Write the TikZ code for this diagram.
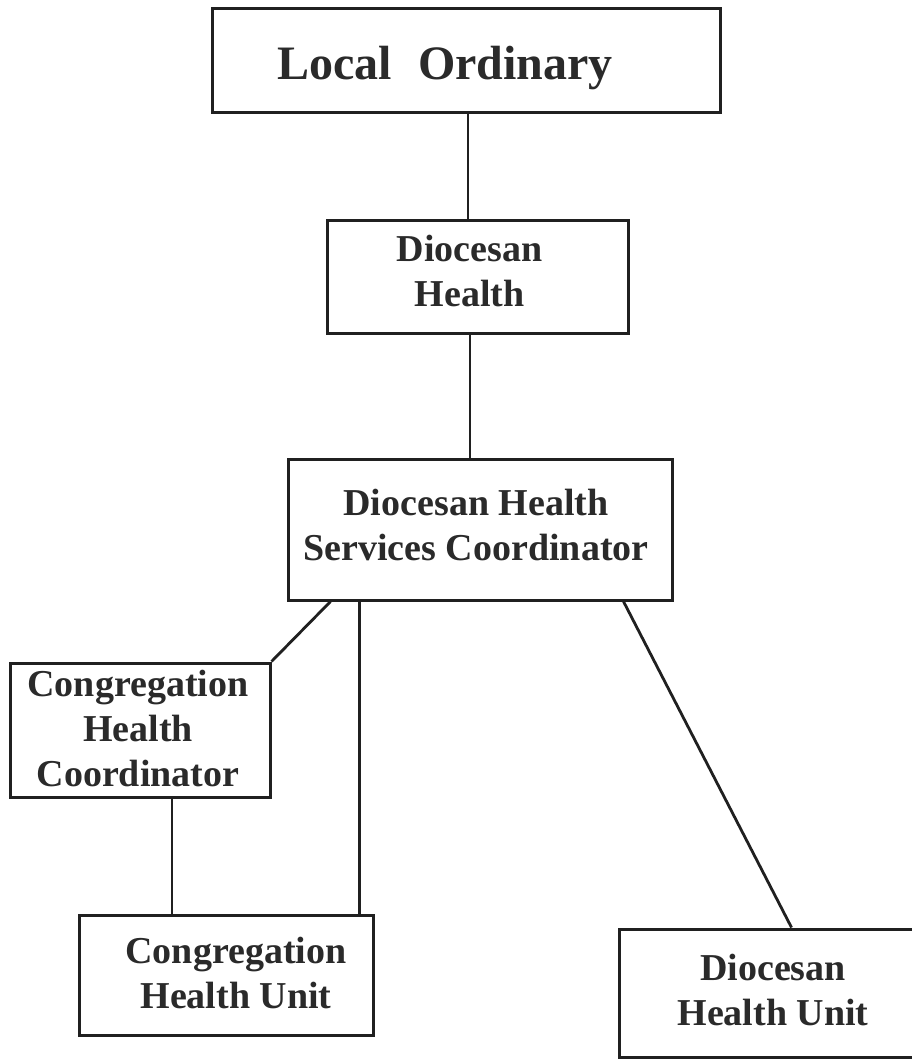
\documentclass[tikz,border=0pt]{standalone}
\usepackage{fontspec}
\setmainfont{Liberation Serif}
\definecolor{ink}{HTML}{202020}
\definecolor{txt}{HTML}{2A2A2A}
\begin{document}
\begin{tikzpicture}[x=1pt,y=-1pt,
  boxstyle/.style={draw=ink,line width=3pt,inner sep=0pt,fill=none},
  lbl/.style={inner sep=0pt,align=center,text=txt,font=\bfseries\fontsize{38}{45}\selectfont},
  conn/.style={draw=ink,line width=2.8pt}]
\useasboundingbox (0,0) rectangle (911,1059);
% boxes
\node[boxstyle,minimum width=508pt,minimum height=104pt] (lo) at (466,61) {};
\node[boxstyle,minimum width=301pt,minimum height=112pt] (dh) at (477.5,277) {};
\node[boxstyle,minimum width=384pt,minimum height=141pt] (dhsc) at (480,529.5) {};
\node[boxstyle,minimum width=260pt,minimum height=134pt] (chc) at (140,730) {};
\node[boxstyle,minimum width=294pt,minimum height=120pt] (chu) at (226,975) {};
\node[boxstyle,minimum width=311pt,minimum height=128pt] (dhu) at (774.5,993) {};
% labels
\node[lbl,font=\bfseries\fontsize{48}{50}\selectfont] (tlo) at (445,68) {Local\hspace{0.3em} Ordinary};
\node[lbl] (tdh) at (469.5,271.5) {Diocesan\\Health};
\node[lbl] (tdhsc) at (476,525) {Diocesan Health\\Services Coordinator};
\node[lbl] (tchc) at (138,728) {Congregation\\Health\\Coordinator};
\node[lbl] (tchu) at (236,972.5) {Congregation\\Health Unit};
\node[lbl] (tdhu) at (773,990) {Diocesan\\Health Unit};
% connectors
\draw[conn] ([xshift=2pt]lo.south) -- ([xshift=2pt]lo.south |- dh.north);
\draw[conn] ([xshift=-7.5pt]dh.south) -- ([xshift=-7.5pt]dh.south |- dhsc.north);
\draw[conn] ([xshift=44pt]dhsc.south west) -- (chc.north east);
\draw[conn] ([xshift=73pt]dhsc.south west) -- ([xshift=73pt]dhsc.south west |- chu.north);
\draw[conn] ([xshift=-50pt]dhsc.south east) -- ([xshift=174pt]dhu.north west);
\draw[conn] ([xshift=32pt]chc.south) -- ([xshift=32pt]chc.south |- chu.north);
\end{tikzpicture}
\end{document}
